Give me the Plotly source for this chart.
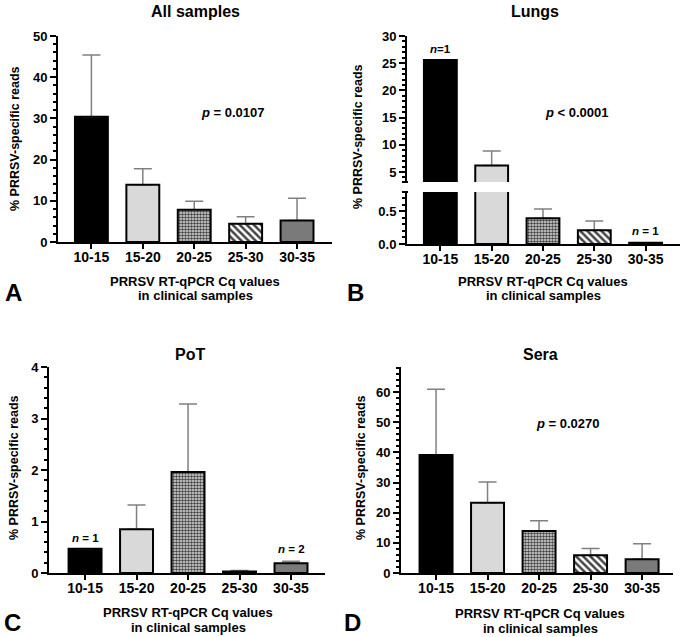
import plotly.graph_objects as go

W, H = 685, 637

categories = ["10-15", "15-20", "20-25", "25-30", "30-35"]

# Panel A: All samples (mean, SD)
all_vals = [30.4, 13.9, 7.8, 4.4, 5.2]
all_sd = [15.0, 3.9, 2.1, 1.7, 5.4]
# Panel B: Lungs
lung_vals = [25.6, 6.2, 0.39, 0.21, 0.02]
lung_sd = [None, 2.65, 0.14, 0.14, None]
# Panel C: PoT
pot_vals = [0.47, 0.85, 1.96, 0.03, 0.19]
pot_sd = [None, 0.47, 1.32, 0.02, 0.04]
# Panel D: Sera
sera_vals = [39.1, 23.3, 13.9, 5.9, 4.6]
sera_sd = [21.8, 6.9, 3.4, 2.2, 5.1]

bar_colors = ["#000000", "#d9d9d9", "#e2e2e2", "#ffffff", "#7a7a7a"]
pat_shapes = ["", "", ".", "\\", ""]
pat_size = [6, 6, 3, 5, 6]
pat_sol = [0.3, 0.3, 0.55, 0.5, 0.3]

FONT = "Arial, Liberation Sans, Helvetica, sans-serif"
BAR_W = 0.64

fig = go.Figure()


def add_bars(xa, ya, vals, sd):
    fig.add_trace(go.Bar(
        x=categories, y=vals, xaxis=xa, yaxis=ya, width=BAR_W,
        marker=dict(color=bar_colors, line=dict(width=0),
                    pattern=dict(shape=pat_shapes, size=pat_size, solidity=pat_sol,
                                 fillmode="overlay", fgopacity=1)),
        error_y=dict(type="data", array=sd, arrayminus=[None] * len(vals), symmetric=False,
                     color="#808080", thickness=1.5, width=9),
        showlegend=False, hoverinfo="skip"))
    fig.add_trace(go.Bar(
        x=categories, y=vals, xaxis=xa, yaxis=ya, width=BAR_W,
        marker=dict(color="rgba(0,0,0,0)", line=dict(width=2, color="black")),
        showlegend=False, hoverinfo="skip"))


add_bars("x", "y", all_vals, all_sd)
# Lungs: broken axis; lower segment (y2) and upper segment (y3)
lung_sd_low = [s if v < 1 else None for v, s in zip(lung_vals, lung_sd)]
lung_sd_up = [s if v >= 1 else None for v, s in zip(lung_vals, lung_sd)]
add_bars("x2", "y2", lung_vals, lung_sd_low)
add_bars("x2", "y3", lung_vals, lung_sd_up)
add_bars("x3", "y4", pot_vals, pot_sd)
add_bars("x4", "y5", sera_vals, sera_sd)


def px_x(a, b):
    return [a / W, b / W]


def px_y(top, bottom):
    return [1 - bottom / H, 1 - top / H]


ytickfont = dict(family=FONT, size=13, color="black", weight="bold")
xtickfont = dict(family=FONT, size=14, color="black", weight="bold")


def xax(dom, anchor, rng):
    return dict(domain=px_x(*dom), anchor=anchor, type="category", range=rng,
                showline=True, linewidth=2, linecolor="black", ticks="outside",
                ticklen=5, tickwidth=2, tickcolor="black", tickfont=xtickfont,
                ticklabelstandoff=-4,
                showgrid=False, zeroline=False, automargin=False, fixedrange=True)


def yax(dom, anchor, rng, dtick, minor, fmt=None, tick0=0):
    d = dict(domain=px_y(*dom), anchor=anchor, range=rng, dtick=dtick, tick0=tick0,
             showline=True, linewidth=2, linecolor="black", ticks="outside",
             ticklen=6, tickwidth=2, tickcolor="black", tickfont=ytickfont,
             minor=dict(ticks="outside", ticklen=3, tickwidth=1.5, tickcolor="black", dtick=minor),
             showgrid=False, zeroline=False, automargin=False, fixedrange=True)
    if fmt:
        d["tickformat"] = fmt
    return d


fig.update_layout(
    width=W, height=H, margin=dict(l=0, r=0, t=0, b=0),
    paper_bgcolor="white", plot_bgcolor="rgba(0,0,0,0)",
    barmode="overlay", showlegend=False,
    font=dict(family=FONT, color="black"),
    xaxis=xax((58, 332), "y", [-0.65, 4.68]),
    yaxis=yax((36, 242), "x", [0, 50], 10, 2),
    xaxis2=xax((407, 680), "y2", [-0.65, 4.67]),
    yaxis2=yax((192, 244), "x2", [0, 0.79], 0.5, 0.1, ".1f"),
    yaxis3=yax((36, 182), "x2", [3.15, 30], 5, 1),
    xaxis3=xax((49, 325), "y4", [-0.7, 4.66]),
    yaxis4=yax((367, 573), "x3", [0, 4], 1, 0.2),
    xaxis4=xax((401, 673), "y5", [-0.68, 4.6]),
    yaxis5=yax((367, 573), "x4", [0, 68.3], 10, 2),
)

# axis break caps for the Lungs panel
for yy in (182, 192):
    fig.add_shape(type="line", xref="paper", yref="paper",
                  x0=(407 - 5) / W, x1=(407 + 1) / W, y0=1 - yy / H, y1=1 - yy / H,
                  line=dict(color="black", width=2))

ann = []


def text(x, y, s, size=12, angle=0, xanchor="center"):
    ann.append(dict(x=x / W, y=1 - y / H, xref="paper", yref="paper", text=s, showarrow=False,
                    textangle=angle, xanchor=xanchor, yanchor="middle",
                    font=dict(family=FONT, size=size, color="black", weight="bold")))


# titles
text(195, 11, "All samples", 16)
text(535, 11, "Lungs", 16)
text(190, 354, "PoT", 16)
text(540, 354, "Sera", 16)
# y titles
ylab = "% PRRSV-specific reads"
text(15, 139, ylab, 12.5, -90)
text(358, 137, ylab, 12.5, -90)
text(14, 468, ylab, 12.5, -90)
text(361, 467, ylab, 12.5, -90)
# x titles
xl1 = "PRRSV RT-qPCR Cq values"
xl2 = "in clinical samples"
for cx, y1 in ((195, 281), (543, 281), (188, 612), (540, 613)):
    text(cx, y1, xl1, 13)
    text(cx, y1 + 15, xl2, 13)
# panel letters
text(13, 292, "A", 24)
text(355, 292, "B", 24)
text(12, 622, "C", 24)
text(353, 622, "D", 24)
# p values
text(233, 112, "<i>p</i> = 0.0107", 13)
text(577, 113, "<i>p</i> &lt; 0.0001", 13)
text(568, 423, "<i>p</i> = 0.0270", 13)

fig.update_layout(annotations=ann)


# n labels anchored to bars
def nlabel(xa, ya, idx, vals, s, shift):
    fig.add_annotation(x=categories[idx], y=vals[idx], xref=xa, yref=ya, text=s,
                       showarrow=False, yanchor="bottom", yshift=shift,
                       font=dict(family=FONT, size=11.5, color="black", weight="bold"))


nlabel("x2", "y3", 0, lung_vals, "<i>n</i>=1", 3)
nlabel("x2", "y2", 4, lung_vals, "<i>n</i> = 1", 4)
nlabel("x3", "y4", 0, pot_vals, "<i>n</i> = 1", 3)
nlabel("x3", "y4", 4, pot_vals, "<i>n</i> = 2", 6)

fig.write_html("out.html", config={"displayModeBar": False},
               post_script="document.body.style.margin='0px';")
